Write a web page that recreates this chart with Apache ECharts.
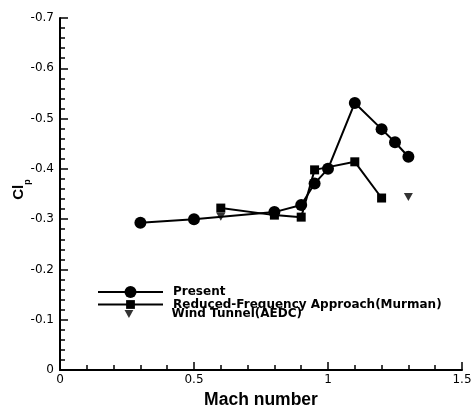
<!DOCTYPE html>
<html>
<head>
<meta charset="utf-8">
<script src="https://cdn.jsdelivr.net/npm/echarts@6/dist/echarts.min.js"></script>
<style>html,body{margin:0;padding:0;background:#fff;}#c{width:472px;height:410px;}</style>
</head>
<body>
<div id="c"></div>
<script>
// Data
var presentX = [0.3, 0.5, 0.8, 0.9, 0.95, 1.0, 1.1, 1.2, 1.25, 1.3];
var presentY = [-0.293, -0.300, -0.314, -0.328, -0.371, -0.400, -0.531, -0.479, -0.453, -0.424];
var murmanX = [0.6, 0.8, 0.9, 0.95, 1.1, 1.2];
var murmanY = [-0.322, -0.308, -0.304, -0.398, -0.414, -0.342];
var aedcX = [0.6, 1.3];
var aedcY = [-0.305, -0.344];
var seriesNames = ['Present', 'Reduced-Frequency Approach(Murman)', 'Wind Tunnel(AEDC)'];
var xTicks = {min: 0, max: 1.5, interval: 0.5};
var yTicks = {min: -0.7, max: 0, interval: 0.1};

function pairs(xs, ys) { return xs.map(function (x, i) { return [x, ys[i]]; }); }

var chart = echarts.init(document.getElementById('c'));
function legendText(padLeft) {
  return {fontFamily: 'DejaVu Sans', fontWeight: 'bold', fontSize: 12, color: '#000', padding: [0, 0, 0, padLeft], lineHeight: 10};
}
chart.setOption({
  animation: false,
  backgroundColor: '#fff',
  grid: {left: 60, right: 10, top: 18, bottom: 40, containLabel: false, outerBoundsMode: 'none'},
  xAxis: {
    type: 'value', min: xTicks.min, max: xTicks.max, interval: xTicks.interval,
    name: 'Mach number', nameLocation: 'middle', nameGap: 21, nameMoveOverlap: false,
    nameTextStyle: {fontFamily: 'Liberation Sans', fontWeight: 'bold', fontSize: 17.5, color: '#000'},
    axisLine: {onZero: false, lineStyle: {color: '#000', width: 2}},
    axisTick: {inside: true, length: 8, lineStyle: {color: '#000', width: 1.5}},
    minorTick: {show: true, splitNumber: 5, length: 5, lineStyle: {color: '#000', width: 1.5}},
    axisLabel: {fontFamily: 'DejaVu Sans', fontSize: 12, color: '#000', margin: 4},
    splitLine: {show: false}
  },
  yAxis: {
    type: 'value', inverse: true, min: yTicks.min, max: yTicks.max, interval: yTicks.interval,
    name: '{a|Cl}{b|p}', nameLocation: 'middle', nameRotate: 90, nameGap: 15, nameMoveOverlap: false,
    nameTextStyle: {
      rich: {
        a: {fontFamily: 'Liberation Sans', fontWeight: 'bold', fontSize: 15, color: '#000', lineHeight: 15, verticalAlign: 'top', padding: [0, 0, 0, 9]},
        b: {fontFamily: 'Liberation Sans', fontWeight: 'bold', fontSize: 9, color: '#000', lineHeight: 34, verticalAlign: 'middle'}
      }
    },
    axisLine: {onZero: false, lineStyle: {color: '#000', width: 2}},
    axisTick: {inside: true, length: 8, lineStyle: {color: '#000', width: 1.5}},
    minorTick: {show: true, splitNumber: 5, length: 5, lineStyle: {color: '#000', width: 1.5}},
    axisLabel: {fontFamily: 'DejaVu Sans', fontSize: 12, color: '#000', margin: 6},
    splitLine: {show: false}
  },
  legend: [
    {data: [seriesNames[0]], left: 97, top: 286, orient: 'vertical', padding: 0, itemWidth: 65, itemHeight: 15, textStyle: legendText(5)},
    {data: [seriesNames[1]], left: 97, top: 298.5, orient: 'vertical', padding: 0, itemWidth: 65, itemHeight: 11, textStyle: legendText(5)},
    {data: [{name: seriesNames[2], icon: 'path://M0,0 L10,0 L5,9 Z'}], left: 124.5, top: 308, orient: 'vertical', padding: 0,
     itemWidth: 9, itemHeight: 8, textStyle: legendText(33)}
  ],
  series: [
    {name: seriesNames[0], type: 'line', data: pairs(presentX, presentY), symbol: 'circle', symbolSize: 12,
     lineStyle: {color: '#000', width: 2}, itemStyle: {color: '#000'}, z: 3},
    {name: seriesNames[1], type: 'line', data: pairs(murmanX, murmanY), symbol: 'rect', symbolSize: 9,
     lineStyle: {color: '#000', width: 2}, itemStyle: {color: '#000'}, z: 2},
    {name: seriesNames[2], type: 'scatter', data: pairs(aedcX, aedcY), symbol: 'triangle', symbolSize: [9, 8], symbolRotate: 180,
     itemStyle: {color: '#000'}, z: 4}
  ]
});
</script>
</body>
</html>
